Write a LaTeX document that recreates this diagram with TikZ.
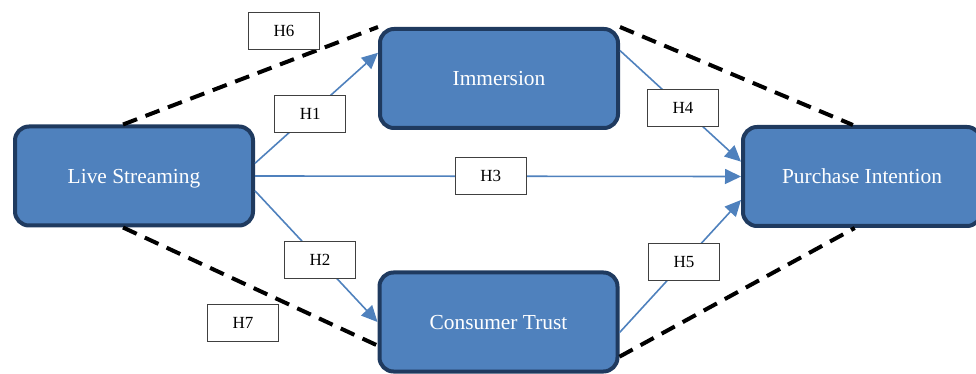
\documentclass[tikz,border=0pt]{standalone}
\usepackage{fontspec}
\setmainfont{Liberation Serif}
\usetikzlibrary{arrows.meta}
\definecolor{boxblue}{HTML}{4F81BD}
\definecolor{boxline}{HTML}{1F3A5F}
\definecolor{tagline}{HTML}{404040}

\begin{document}
\begin{tikzpicture}[x=0.5pt,y=-0.5pt,>={Triangle[length=8pt,width=7.5pt]},
    main node/.style={rectangle,rounded corners=7pt,draw=boxline,line width=2pt,fill=boxblue,
      text=white,minimum width=119pt,minimum height=49.5pt,inner sep=0pt,
      text height=7.5pt,text depth=0pt,font=\fontsize{10.7}{13}\selectfont},
    tag node/.style={rectangle,draw=tagline,line width=0.5pt,fill=white,text=black,
      minimum width=35.5pt,minimum height=18.5pt,inner sep=0pt,
      font=\fontsize{8.5}{10}\selectfont},
    link/.style={->,color=boxblue,line width=0.8pt},
    tie/.style={draw=black,line width=2pt,dash pattern=on 7.5pt off 4.5pt}]

  \useasboundingbox (0,0) rectangle (976,374);

  \node[main node] (ls) at (134,176) {Live Streaming};
  \node[main node] (im) at (499,78.5) {Immersion};
  \node[main node] (ct) at (498.5,322) {Consumer Trust};
  \node[main node] (pi) at (862,176.5) {Purchase Intention};

  % direct paths
  \path[link,every node/.style={tag node}]
    (ls.6)   edge node[pos=.45] {H1} (im.168)
    (ls.353) edge node[pos=.53] {H2} (ct.west)
    (ls.east) edge node[pos=.485] {H3} (pi.west)
    (im.13)  edge node[pos=.52] {H4} (pi.173)
    (ct.355) edge node[pos=.53] {H5} (pi.191);

  % mediated paths
  \draw[tie] (ls.102) -- (im.north west);
  \draw[tie] (im.north east) -- (pi.100);
  \draw[tie] (ls.258) -- (ct.191);
  \draw[tie] (ct.344) -- (pi.262);

  \node[tag node] (h6) at (284,31) {H6};
  \node[tag node] (h7) at (243,323) {H7};
\end{tikzpicture}
\end{document}
